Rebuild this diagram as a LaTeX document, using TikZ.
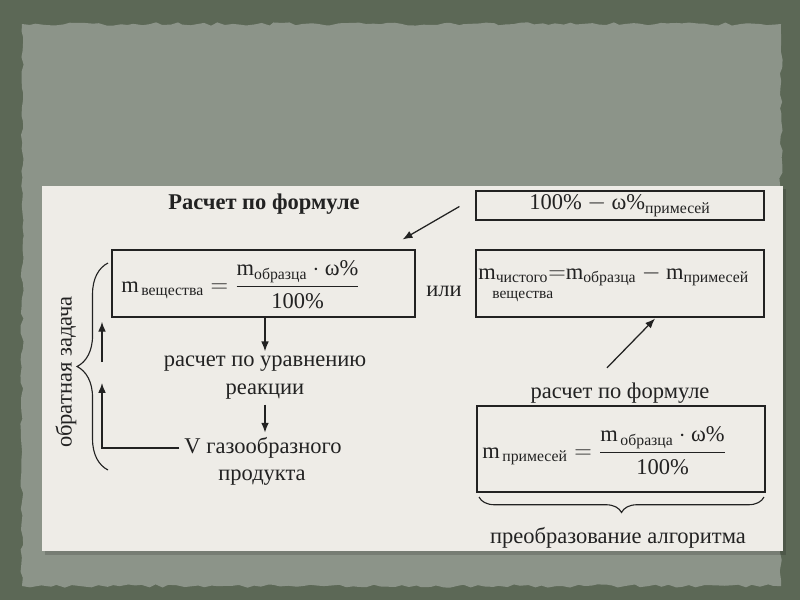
\documentclass[tikz,border=0pt]{standalone}
\usepackage{fontspec}
\usepackage{amsmath}
\setmainfont{Liberation Serif}
\usetikzlibrary{arrows.meta,decorations.pathreplacing,decorations.pathmorphing}

\definecolor{slateout}{HTML}{5C6856}
\definecolor{slatein}{HTML}{8C9489}
\definecolor{paper}{HTML}{EEECE7}
\definecolor{ink}{HTML}{222222}

\tikzset{
  frame/.style={draw=ink, line width=0.8pt, rectangle, inner sep=0pt},
  lbl/.style={text=ink, font=\fontsize{16}{19}\selectfont},
  arr/.style={-{Latex[length=7pt,width=5.5pt]}, line width=0.9pt, draw=ink},
  curly/.style={draw=ink, line width=0.8pt, decorate, decoration={brace, amplitude=#1}},
}

\begin{document}
\begin{tikzpicture}[x=0.025cm, y=-0.025cm]
    % фон слайда
    \fill[slateout] (0,0) rectangle (800,600);
    \fill[slatein, decorate, decoration={random steps, segment length=5pt, amplitude=1.2pt}]
        (22,24) -- (781,24) -- (781,586) -- (22,586) -- cycle;
    \fill[black, opacity=0.15] (45,189) rectangle (786,555);
    \fill[paper] (42,186) rectangle (783,551);

    % прямая задача
    \node[lbl, font=\fontsize{16}{19}\selectfont\bfseries] (title) at (264,204) {Расчет по формуле};
    \node[frame, minimum width=7.575cm, minimum height=1.675cm] (box1) at (263.5,283.5) {};
    \node[lbl, anchor=west, inner sep=0pt] (f1) at (121,285)
        {$\displaystyle \text{m}_{\,\text{вещества}} = \frac{\text{m}_{\text{образца}}\cdot\text{ω\%}}{\text{100\%}}$};
    \node[lbl] (ur1) at (265,364) {расчет по уравнению};
    \node[lbl] (ur2) at (265,392) {реакции};
    \node[lbl] (gas1) at (263,448) {V газообразного};
    \node[lbl] (gas2) at (262,478) {продукта};
    \node[lbl] (ili) at (444,291) {или};

    % обратная задача
    \node[lbl, rotate=90] (obr) at (66,372) {обратная задача};
    \coordinate (back) at (102,448);
    \coordinate (gap) at (102,362);

    % правая часть
    \node[frame, minimum width=7.2cm, minimum height=0.725cm] (pct) at (620,205.5) {};
    \node[lbl, inner sep=0pt] (f2) at (620,206) {$\text{100\%} - \text{ω\%}_{\text{примесей}}$};
    \node[frame, minimum width=7.2cm, minimum height=1.675cm] (box2) at (620,283.5) {};
    \node[lbl, anchor=base west, inner sep=0pt] (f3) at (478,279)
        {$\text{m}_{\text{чистого}}{=}\text{m}_{\text{образца}} - \text{m}_{\text{примесей}}$};
    \node[lbl, font=\fontsize{11}{13}\selectfont, anchor=base west, inner sep=0pt] (vesh) at (492,298) {вещества};
    \node[lbl] (form2) at (620,393) {расчет по формуле};
    \node[frame, minimum width=7.2cm, minimum height=2.15cm] (box3) at (621,449) {};
    \node[lbl, anchor=west, inner sep=0pt] (f4) at (482,451)
        {$\displaystyle \text{m}_{\,\text{примесей}} = \frac{\text{m}_{\,\text{образца}}\cdot\text{ω\%}}{\text{100\%}}$};
    \node[lbl] (algo) at (618,538) {преобразование алгоритма};

    % стрелки
    \draw[arr] (box1.south -| ur1) -- (ur1.north);
    \draw[arr] (ur2.south) -- (ur2.south |- gas1.north);
    \draw[arr] (gas1.west) -- (back) -- ++(0,-65);
    \draw[arr] (gap) -- ([yshift=-3]gap |- box1.south);
    \draw[arr] ([shift={(-16,1)}]pct.west) -- ([shift={(-13,-10)}]box1.north east);
    \draw[arr] ([shift={(-13,-10)}]form2.north) -- ([shift={(35,1)}]box2.south);

    % скобки
    \draw[curly=22pt] (108,470) -- (108,263);
    \draw[curly=11pt] (764,497) -- (479,497);
\end{tikzpicture}
\end{document}
